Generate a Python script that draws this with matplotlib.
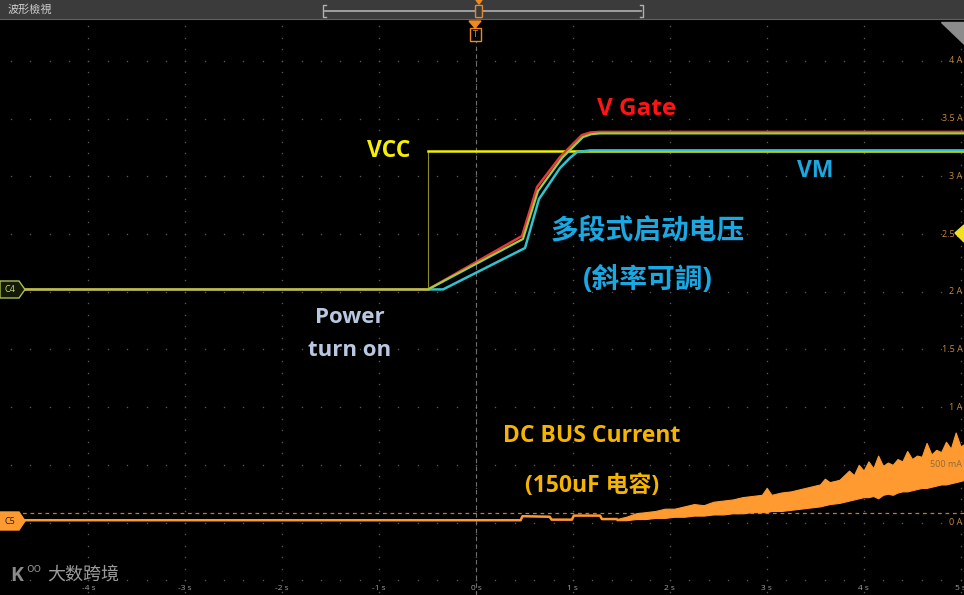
import numpy as np
import matplotlib
matplotlib.use('Agg')
import matplotlib.pyplot as plt
from matplotlib.patches import Polygon, Rectangle, FancyBboxPatch

# ---- data (time in s, level on the A scale) ----
base_level = 2.02
vcc_step_t = -0.495
vcc_high = 3.22

gate_t = [-4.91, -0.495, 0.475, 0.63, 0.867, 1.0, 1.094, 1.18, 1.28, 5.04]
gate_v = [2.02, 2.02, 2.483, 2.907, 3.167, 3.28, 3.358, 3.38, 3.385, 3.385]

green_t = [-4.91, -0.495, 0.485, 0.64, 0.888, 1.02, 1.104, 1.19, 1.28, 5.04]
green_v = [2.02, 2.02, 2.457, 2.873, 3.159, 3.27, 3.34, 3.365, 3.372, 3.372]

vm_t = [-4.91, -0.34, 0.506, 0.65, 0.867, 0.97, 1.042, 1.18, 5.04]
vm_v = [2.02, 2.02, 2.379, 2.803, 3.072, 3.16, 3.21, 3.225, 3.225]

cur_t = [-4.91, 0.46, 0.48, 0.76, 0.78, 0.99, 1.01, 1.28, 1.30, 1.45]
cur_a = [0.02, 0.02, 0.055, 0.05, 0.025, 0.025, 0.06, 0.06, 0.03, 0.03]

band_t = [1.45, 1.55, 1.65, 1.75, 1.85, 1.95, 2.05, 2.15, 2.25, 2.35, 2.45, 2.55,
          2.65, 2.75, 2.85, 2.95, 3.00, 3.05, 3.15, 3.25, 3.35, 3.45, 3.55, 3.60,
          3.65, 3.75, 3.85, 3.90, 3.95, 4.00, 4.05, 4.10, 4.15, 4.20, 4.25, 4.30,
          4.35, 4.40, 4.45, 4.50, 4.55, 4.60, 4.65, 4.70, 4.75, 4.80, 4.85, 4.90,
          4.95, 5.00, 5.04]
band_hi = [0.03, 0.05, 0.08, 0.09, 0.10, 0.12, 0.12, 0.14, 0.16, 0.15, 0.18, 0.19,
           0.20, 0.22, 0.23, 0.24, 0.30, 0.24, 0.26, 0.27, 0.29, 0.31, 0.33, 0.38,
           0.35, 0.37, 0.45, 0.41, 0.50, 0.45, 0.53, 0.47, 0.58, 0.49, 0.52, 0.50,
           0.55, 0.53, 0.62, 0.55, 0.58, 0.57, 0.69, 0.59, 0.63, 0.61, 0.70, 0.64,
           0.78, 0.66, 0.68]
band_lo = [0.02, 0.02, 0.03, 0.03, 0.04, 0.04, 0.05, 0.05, 0.06, 0.06, 0.07, 0.07,
           0.08, 0.08, 0.09, 0.09, 0.09, 0.10, 0.10, 0.11, 0.12, 0.13, 0.14, 0.15,
           0.16, 0.17, 0.19, 0.20, 0.21, 0.22, 0.22, 0.23, 0.21, 0.24, 0.25, 0.24,
           0.26, 0.27, 0.27, 0.28, 0.29, 0.30, 0.30, 0.31, 0.32, 0.33, 0.33, 0.34,
           0.35, 0.36, 0.37]
cur_ref = 0.082

x_ticks = [-4, -3, -2, -1, 0, 1, 2, 3, 4, 5]
x_labels = ['-4 s', '-3 s', '-2 s', '-1 s', '0 s', '1 s', '2 s', '3 s', '4 s', '5 s']
y_rows = [-0.5, 0.0, 0.5, 1.0, 1.5, 2.0, 2.5, 3.0, 3.5, 4.0]
y_labels = ['', '0 A', '500 mA', '1 A', '1.5 A', '2 A', '2.5 A', '3 A', '3.5 A', '4 A']

LATIN = ['Open Sans', 'Noto Sans CJK SC', 'DejaVu Sans']
CJK = ['Noto Sans CJK SC', 'DejaVu Sans']

W, H = 964, 595
fig = plt.figure(figsize=(W / 100, H / 100), dpi=100, facecolor='black')
ax = fig.add_axes([0, 0, 1, 577 / H])
ax.set_facecolor('black')
ax.set_xlim(-4.912, 5.036)
ax.set_ylim(-0.628, 4.372)
ax.axis('off')


def fp(x, y):
    # screen pixel -> figure fraction (for the scope UI decorations)
    return (x / W, 1 - y / H)


# graticule
for t in x_ticks:
    ys = np.arange(-0.6, 4.41, 0.1)
    ax.scatter(np.full(len(ys), t), ys, s=1.1, color='#585858', lw=0, zorder=1)
for r in y_rows:
    xs = np.arange(-4.8, 5.05, 0.2)
    ax.scatter(xs, np.full(len(xs), r), s=1.1, color='#585858', lw=0, zorder=1)
ax.axvline(0, color='#707070', lw=0.8, ls=(0, (4, 3)), zorder=1)

for t, lab in zip(x_ticks, x_labels):
    ax.text(t, -0.575, lab, color='#a0a0a0', fontsize=6, ha='center', va='center',
            family=LATIN, zorder=5)
for r, lab in zip(y_rows, y_labels):
    col = '#8a6a40' if lab == '500 mA' else '#c88a3c'
    ax.text(5.02, r, lab, color=col, fontsize=6.5, ha='right', va='center',
            family=LATIN, zorder=6)

# C5 current
ax.axhline(cur_ref, color='#c87a28', lw=0.9, ls=(0, (3, 3)), zorder=2)
ax.plot(cur_t, cur_a, color='#ff9a30', lw=1.8, zorder=3)
ax.fill_between(band_t, band_lo, band_hi, color='#ff9a30', lw=0.8,
                edgecolor='#ff9a30', zorder=3)

# C4 voltages
ax.plot([-4.91, vcc_step_t], [base_level, base_level], color='#e6e600', lw=1.8, zorder=3)
ax.plot([vcc_step_t, vcc_step_t], [base_level, vcc_high], color='#8c8c20', lw=0.8, zorder=3)
ax.plot([vcc_step_t, 5.04], [vcc_high, vcc_high], color='#f0f000', lw=1.8, zorder=3)
ax.plot(vm_t, vm_v, color='#30c4d0', lw=1.8, zorder=4)
ax.plot(gate_t, gate_v, color='#e8383c', lw=1.8, zorder=4)
ax.plot(green_t, green_v, color='#98d040', lw=1.6, zorder=4)

# annotations
ax.text(-0.898, 3.219, 'VCC', color='#f5f000', fontsize=16.5, fontweight='bold',
        ha='center', va='center', family=LATIN, zorder=7)
ax.text(1.656, 3.583, 'V Gate', color='#ff1414', fontsize=17.5, fontweight='bold',
        ha='center', va='center', family=LATIN, zorder=7)
ax.text(3.499, 3.046, 'VM', color='#1aa8e2', fontsize=16.5, fontweight='bold',
        ha='center', va='center', family=LATIN, zorder=7)
ax.text(1.775, 2.526, '多段式启动电压', color='#1aa8e2', fontsize=20, fontweight='bold',
        ha='center', va='center', family=CJK, zorder=7)
ax.text(1.775, 2.093, '(斜率可調)', color='#1aa8e2', fontsize=20, fontweight='bold',
        ha='center', va='center', family=LATIN, zorder=7)
ax.text(-1.30, 1.781, 'Power', color='#b8c8e0', fontsize=16, fontweight='bold',
        ha='center', va='center', family=LATIN, zorder=7)
ax.text(-1.30, 1.494, 'turn on', color='#b8c8e0', fontsize=16, fontweight='bold',
        ha='center', va='center', family=LATIN, zorder=7)
ax.text(1.197, 0.750, 'DC BUS Current', color='#f4b400', fontsize=16.5, fontweight='bold',
        ha='center', va='center', family=LATIN, zorder=7)
ax.text(1.197, 0.316, '(150uF 电容)', color='#f4b400', fontsize=16.5, fontweight='bold',
        ha='center', va='center', family=LATIN, zorder=7)

# ---- scope UI decorations ----
fig.add_artist(Rectangle(fp(0, 19), 1, 19 / H, transform=fig.transFigure,
                         facecolor='#3b3b3b', edgecolor='none', zorder=10))
fig.add_artist(plt.Line2D([0, 1], [1 - 19 / H] * 2, transform=fig.transFigure,
                          color='#606060', lw=0.8, zorder=11))
fig.text(*fp(8, 10), '波形檢視', color='#d0d0d0', fontsize=8, va='center', ha='left',
         family=['Noto Sans CJK TC', 'DejaVu Sans'], zorder=12)
fig.add_artist(plt.Line2D([325 / W, 641 / W], [1 - 11 / H] * 2, transform=fig.transFigure,
                          color='#b0b0b0', lw=1.2, zorder=12))
for bx, d in ((323, 3), (643, -3)):
    fig.add_artist(plt.Line2D([(bx + d) / W, bx / W, bx / W, (bx + d) / W],
                              [1 - 5 / H, 1 - 5 / H, 1 - 17 / H, 1 - 17 / H],
                              transform=fig.transFigure, color='#b0b0b0', lw=1, zorder=12))
fig.add_artist(Polygon([fp(476, 0), fp(482, 0), fp(479, 4)], closed=True,
                       transform=fig.transFigure, color='#f08a20', zorder=12))
fig.add_artist(FancyBboxPatch(fp(476.5, 17), 5 / W, 11 / H, boxstyle='round,pad=0.001',
                              transform=fig.transFigure, facecolor='#3b3b3b',
                              edgecolor='#e08a30', lw=1, zorder=12))

# trigger marker
fig.add_artist(Polygon([fp(469, 21), fp(481, 21), fp(475, 28)], closed=True,
                       transform=fig.transFigure, color='#f08a20', zorder=12))
fig.add_artist(Rectangle(fp(470, 41), 11 / W, 13 / H, transform=fig.transFigure,
                         facecolor='black', edgecolor='#f08a20', lw=1, zorder=12))
fig.text(*fp(475.5, 34.5), 'T', color='#f08a20', fontsize=6.5, ha='center', va='center',
         family=LATIN, zorder=13)

# corner zoom icon
fig.add_artist(Polygon([fp(941, 22), fp(964, 22), fp(964, 44)], closed=True,
                       transform=fig.transFigure, color='#8c8c8c', zorder=12))

# trigger level arrow
fig.add_artist(Polygon([fp(955, 233), fp(964, 225), fp(964, 242)], closed=True,
                       transform=fig.transFigure, color='#f0e020', zorder=12))

# channel tags
fig.add_artist(Polygon([fp(0, 281), fp(19, 281), fp(25, 289.5), fp(19, 298), fp(0, 298)],
                       closed=True, transform=fig.transFigure, facecolor='#141a05',
                       edgecolor='#a8c050', lw=1, zorder=12))
fig.text(*fp(10, 289.5), 'C4', color='#c8e070', fontsize=6.5, ha='center', va='center',
         family=LATIN, zorder=13)
fig.add_artist(Polygon([fp(0, 512), fp(19, 512), fp(25, 521), fp(19, 530), fp(0, 530)],
                       closed=True, transform=fig.transFigure, facecolor='#ff9a30',
                       edgecolor='#ff9a30', lw=1, zorder=12))
fig.text(*fp(10, 521), 'C5', color='#2a1800', fontsize=6.5, ha='center', va='center',
         family=LATIN, zorder=13)

# watermark
fig.text(*fp(10, 576), 'K', color='#8a8a8a', fontsize=14, fontweight='bold', ha='left',
         va='center', family=LATIN, zorder=13)
fig.text(*fp(26, 569), 'oo', color='#8a8a8a', fontsize=9, ha='left', va='center',
         family=LATIN, zorder=13)
fig.text(*fp(47, 575), '大数跨境', color='#9a9a9a', fontsize=13, ha='left', va='center',
         family=CJK, zorder=13)

fig.savefig('out.png', dpi=100, facecolor='black')
